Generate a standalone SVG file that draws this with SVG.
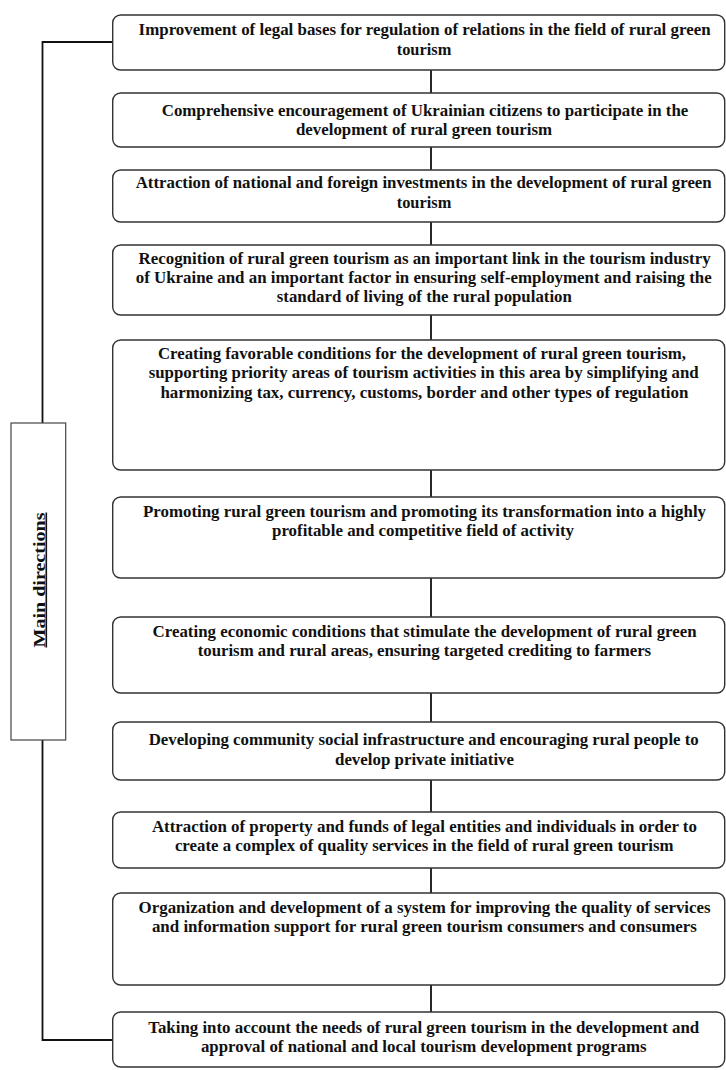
<svg xmlns="http://www.w3.org/2000/svg" width="726" height="1070" viewBox="0 0 726 1070">
<style>
.box{fill:#fff;stroke:#333;stroke-width:1.4}
.t{font-family:"Liberation Serif","Times New Roman",serif;font-weight:bold;font-size:16px;fill:#111;text-anchor:middle}
.ln{fill:none;stroke:#111;stroke-width:1.8}
.mb{fill:#fff;stroke:#444;stroke-width:1.2}
</style>
<rect width="726" height="1070" fill="#fff"/>
<g id="connectors">
<path class="ln" d="M112.7,42 H42.5 V423 M42.5,740 V1040 H112.7"/>
<path class="ln" d="M431,70 V93 M431,147 V170 M431,222 V245 M431,315 V340 M431,470 V497 M431,578 V617 M431,693 V722 M431,780 V812 M431,868 V893 M431,985 V1012"/>
</g>
<g id="main">
<rect class="mb" x="11" y="423" width="54.7" height="317"/>
<text class="t" transform="translate(44.5,580) rotate(-90)" font-size="17" textLength="135" lengthAdjust="spacingAndGlyphs" text-decoration="underline">Main directions</text>
</g>
<g id="n1">
<rect class="box" x="112.7" y="15" width="612" height="55" rx="8"/>
<text class="t" x="424.6" y="34.5" textLength="572" lengthAdjust="spacingAndGlyphs">Improvement of legal bases for regulation of relations in the field of rural green</text>
<text class="t" x="424" y="54.5" textLength="54.5" lengthAdjust="spacingAndGlyphs">tourism</text>
</g>
<g id="n2">
<rect class="box" x="112.7" y="93" width="612" height="54" rx="8"/>
<text class="t" x="425" y="116" textLength="526.5" lengthAdjust="spacingAndGlyphs">Comprehensive encouragement of Ukrainian citizens to participate in the</text>
<text class="t" x="424" y="135" textLength="256" lengthAdjust="spacingAndGlyphs">development of rural green tourism</text>
</g>
<g id="n3">
<rect class="box" x="112.7" y="170" width="612" height="52" rx="8"/>
<text class="t" x="423.7" y="187.5" textLength="576" lengthAdjust="spacingAndGlyphs">Attraction of national and foreign investments in the development of rural green</text>
<text class="t" x="424" y="207.5" textLength="54.5" lengthAdjust="spacingAndGlyphs">tourism</text>
</g>
<g id="n4">
<rect class="box" x="112.7" y="245" width="612" height="70" rx="8"/>
<text class="t" x="424.6" y="263.5" textLength="572" lengthAdjust="spacingAndGlyphs">Recognition of rural green tourism as an important link in the tourism industry</text>
<text class="t" x="423.7" y="283" textLength="576" lengthAdjust="spacingAndGlyphs">of Ukraine and an important factor in ensuring self-employment and raising the</text>
<text class="t" x="424.3" y="302" textLength="295" lengthAdjust="spacingAndGlyphs">standard of living of the rural population</text>
</g>
<g id="n5">
<rect class="box" x="112.7" y="340" width="612" height="130" rx="8"/>
<text class="t" x="422" y="358.5" textLength="528" lengthAdjust="spacingAndGlyphs">Creating favorable conditions for the development of rural green tourism,</text>
<text class="t" x="423.7" y="378" textLength="550" lengthAdjust="spacingAndGlyphs">supporting priority areas of tourism activities in this area by simplifying and</text>
<text class="t" x="424.4" y="397.5" textLength="528" lengthAdjust="spacingAndGlyphs">harmonizing tax, currency, customs, border and other types of regulation</text>
</g>
<g id="n6">
<rect class="box" x="112.7" y="497" width="612" height="81" rx="8"/>
<text class="t" x="424.5" y="516.5" textLength="563" lengthAdjust="spacingAndGlyphs">Promoting rural green tourism and promoting its transformation into a highly</text>
<text class="t" x="423" y="536" textLength="302" lengthAdjust="spacingAndGlyphs">profitable and competitive field of activity</text>
</g>
<g id="n7">
<rect class="box" x="112.7" y="617" width="612" height="76" rx="8"/>
<text class="t" x="424.6" y="636.5" textLength="544" lengthAdjust="spacingAndGlyphs">Creating economic conditions that stimulate the development of rural green</text>
<text class="t" x="424.4" y="656" textLength="453.5" lengthAdjust="spacingAndGlyphs">tourism and rural areas, ensuring targeted crediting to farmers</text>
</g>
<g id="n8">
<rect class="box" x="112.7" y="722" width="612" height="58" rx="8"/>
<text class="t" x="423.7" y="745" textLength="550" lengthAdjust="spacingAndGlyphs">Developing community social infrastructure and encouraging rural people to</text>
<text class="t" x="424.5" y="764.5" textLength="179" lengthAdjust="spacingAndGlyphs">develop private initiative</text>
</g>
<g id="n9">
<rect class="box" x="112.7" y="812" width="612" height="56" rx="8"/>
<text class="t" x="424.4" y="831.5" textLength="545" lengthAdjust="spacingAndGlyphs">Attraction of property and funds of legal entities and individuals in order to</text>
<text class="t" x="424.2" y="850.5" textLength="498.6" lengthAdjust="spacingAndGlyphs">create a complex of quality services in the field of rural green tourism</text>
</g>
<g id="n10">
<rect class="box" x="112.7" y="893" width="612" height="92" rx="8"/>
<text class="t" x="424.6" y="912.5" textLength="572" lengthAdjust="spacingAndGlyphs">Organization and development of a system for improving the quality of services</text>
<text class="t" x="424.4" y="931.5" textLength="545" lengthAdjust="spacingAndGlyphs">and information support for rural green tourism consumers and consumers</text>
</g>
<g id="n11">
<rect class="box" x="112.7" y="1012" width="612" height="55" rx="8"/>
<text class="t" x="423.7" y="1032.5" textLength="551" lengthAdjust="spacingAndGlyphs">Taking into account the needs of rural green tourism in the development and</text>
<text class="t" x="423.7" y="1052" textLength="445.6" lengthAdjust="spacingAndGlyphs">approval of national and local tourism development programs</text>
</g>
</svg>
